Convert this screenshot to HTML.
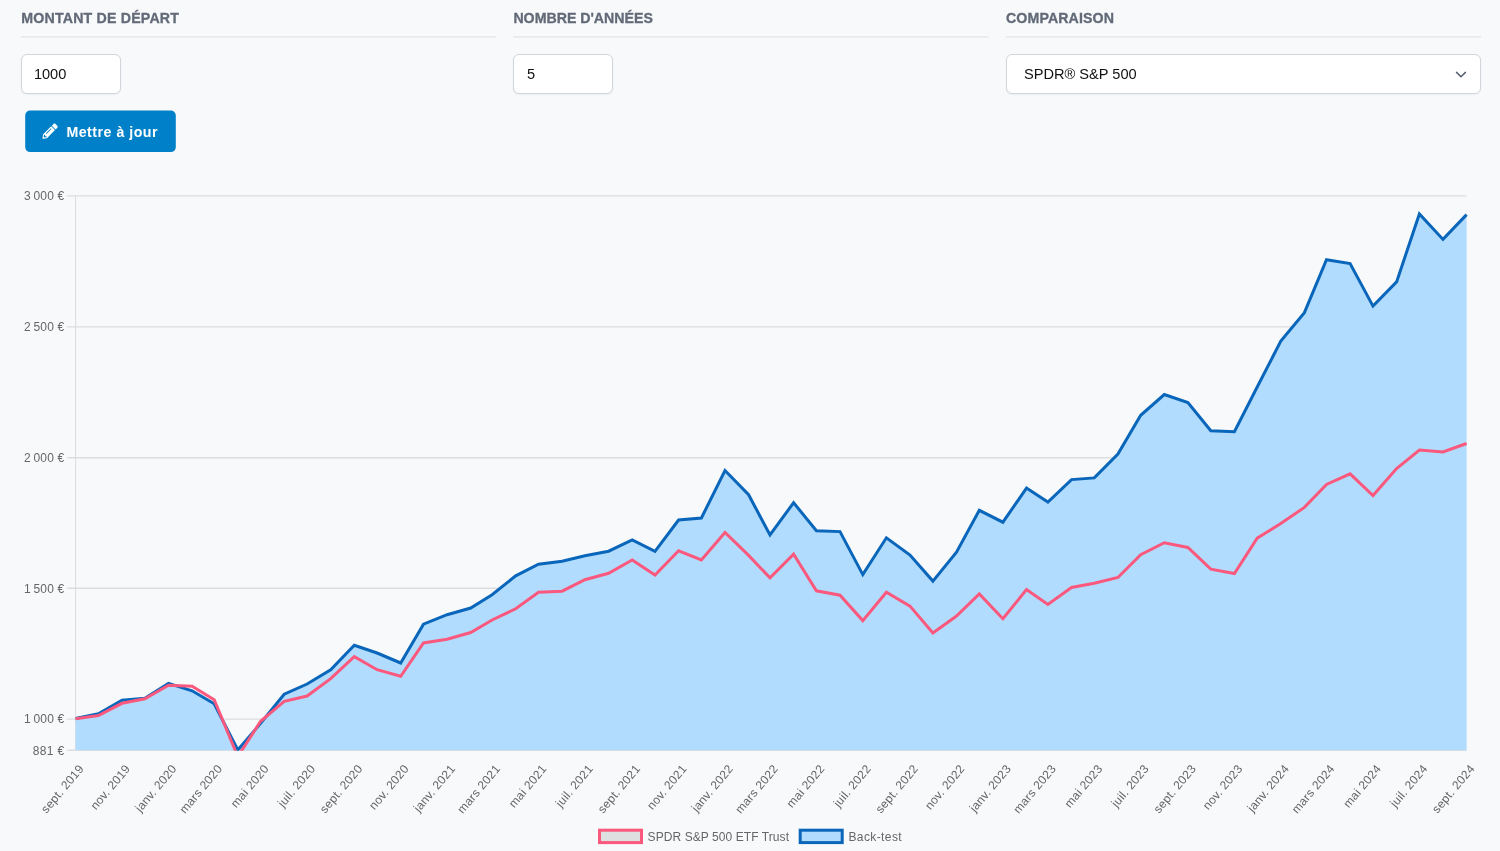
<!DOCTYPE html>
<html lang="fr">
<head>
<meta charset="utf-8">
<title>Back-test</title>
<style>
html,body{margin:0;padding:0}
body{width:1500px;height:851px;overflow:hidden;background:#f8f9fb;position:relative;font-family:"Liberation Sans",Arial,sans-serif;}
.lbl{position:absolute;top:8px;height:20px;line-height:20px;font-weight:700;font-size:14.2px;color:#626a78;-webkit-text-stroke:.3px #626a78;white-space:nowrap}
.hr{position:absolute;top:36px;height:1px;width:475px;background:#e7e9ec}
.inp{position:absolute;top:54px;height:39.5px;box-sizing:border-box;border:1px solid #d1d5dc;border-radius:6px;background:#fff;box-shadow:0 1px 2px rgba(0,0,0,.05);font-size:14.6px;line-height:39.5px;color:#111;white-space:nowrap}
.btn{position:absolute;left:25px;top:110.3px;width:151px;height:41.8px;border-radius:5px;background:#0080c8;color:#fff;font-weight:700;font-size:14.2px;letter-spacing:.5px;line-height:42.5px;white-space:nowrap}
.btn span{position:absolute;left:41.6px;top:0}
.btn svg{position:absolute;left:17.4px;top:13.2px}
.chart{position:absolute;left:0;top:0}
.tk{font-family:"Liberation Sans",Arial,sans-serif;font-size:12px;fill:#666}
</style>
</head>
<body>
<div class="lbl" style="left:21.3px;letter-spacing:.18px">MONTANT DE DÉPART</div>
<div class="lbl" style="left:513.4px;letter-spacing:-.02px">NOMBRE D'ANNÉES</div>
<div class="lbl" style="left:1006px;letter-spacing:.1px">COMPARAISON</div>
<div class="inp" style="left:21px;width:100px;padding-left:11.9px">1000</div>
<div class="inp" style="left:513px;width:100px;padding-left:12.9px">5</div>
<div class="inp" style="left:1006px;width:475px;padding-left:17px">SPDR® S&amp;P 500
<svg style="position:absolute;right:12.9px;top:15.7px" width="12" height="8" viewBox="0 0 12 8"><path d="M1.55 1.4 L6 5.7 L10.45 1.4" fill="none" stroke="#566070" stroke-width="1.5" stroke-linecap="round" stroke-linejoin="round"/></svg>
</div>
<svg class="chart" width="1500" height="851" viewBox="0 0 1500 851">
<defs><clipPath id="ca"><rect x="74.1" y="194.4" width="1394.0" height="556.4"/></clipPath></defs>
<rect x="25.2" y="110.5" width="150.6" height="41.6" rx="5" fill="#0080c8"/>
<g transform="translate(42.5,123.6) scale(0.02969)"><path fill="#fff" d="M497.9 142.1l-46.1 46.1c-4.7 4.7-12.3 4.7-17 0l-111-111c-4.700000-4.700000-4.700000-12.300000 0-17l46.100000-46.100000c18.700000-18.700000 49.100000-18.700000 67.900000 0l60.100000 60.100000c18.800000 18.700000 18.800000 49.100000 0 67.900000zM284.200000 99.800000L21.600000 362.400000.400000 483.900000c-2.900000 16.400000 11.400000 30.600000 27.800000 27.800000l121.500000-21.300000 262.600000-262.600000c4.700000-4.700000 4.700000-12.300000 0-17l-111-111c-4.800000-4.700000-12.400000-4.700000-17.100000 0zM124.100000 339.900000c-5.500000-5.500000-5.500000-14.300000 0-19.800000l154-154c5.500000-5.500000 14.300000-5.500000 19.800000 0s5.500000 14.300000 0 19.800000l-154 154c-5.500000 5.500000-14.300000 5.500000-19.800000 0zM88 424h48v36.300000l-64.500000 11.300000-31.100000-31.100000L51.700000 376H88v48z"/></g>
<text x="66.4" y="137.0" fill="#fff" font-family="Liberation Sans, Arial, sans-serif" font-weight="700" font-size="14.2" letter-spacing=".5">Mettre à jour</text>
<rect x="21.2" y="36.3" width="475.2" height="1.2" fill="#e1e4e8"/>
<rect x="513.4" y="36.3" width="475.2" height="1.2" fill="#e1e4e8"/>
<rect x="1005.9" y="36.3" width="475.2" height="1.2" fill="#e1e4e8"/>
<g stroke="#dcdde0" stroke-width="1.4">
<line x1="67.2" x2="1466.6" y1="195.9" y2="195.9"/>
<line x1="67.2" x2="1466.6" y1="326.9" y2="326.9"/>
<line x1="67.2" x2="1466.6" y1="457.7" y2="457.7"/>
<line x1="67.2" x2="1466.6" y1="588.2" y2="588.2"/>
<line x1="67.2" x2="1466.6" y1="719.1" y2="719.1"/>
<line x1="67.2" x2="1466.6" y1="750.3" y2="750.3"/>
<line x1="75.6" x2="75.6" y1="195.9" y2="750.3" stroke-width="1.1"/>
</g>
<g clip-path="url(#ca)">
<polygon fill="#b1dcfd" points="75.6,718.5 98.4,713.8 122.0,700.3 144.9,698.3 168.5,683.3 192.1,690.8 214.2,703.8 237.8,750.0 260.6,723.3 284.2,694.2 307.1,684.0 330.7,669.7 354.3,645.3 377.1,653.0 400.7,663.0 423.5,624.2 447.1,614.7 470.7,608.0 492.1,594.7 515.7,575.8 538.5,564.2 562.1,561.3 584.9,555.8 608.6,551.2 632.2,540.0 655.0,551.3 678.6,520.0 701.4,518.0 725.0,470.5 748.6,494.7 770.0,535.0 793.6,502.7 816.4,530.8 840.0,531.6 862.8,574.6 886.4,537.8 910.0,555.0 932.9,581.1 956.5,552.1 979.3,510.3 1002.9,522.2 1026.5,488.1 1047.9,502.1 1071.5,479.6 1094.3,477.9 1117.9,454.0 1140.7,415.3 1164.3,394.5 1187.9,402.6 1210.8,430.7 1234.4,431.8 1257.2,387.0 1280.8,341.1 1304.4,312.7 1326.5,259.7 1350.1,263.5 1373.0,306.1 1396.6,281.9 1419.4,213.9 1443.0,239.4 1466.6,214.6 1466.6,750.3 75.6,750.3"/>
<polyline fill="none" stroke="#0a66ba" stroke-width="3" stroke-linejoin="miter" points="75.6,718.5 98.4,713.8 122.0,700.3 144.9,698.3 168.5,683.3 192.1,690.8 214.2,703.8 237.8,750.0 260.6,723.3 284.2,694.2 307.1,684.0 330.7,669.7 354.3,645.3 377.1,653.0 400.7,663.0 423.5,624.2 447.1,614.7 470.7,608.0 492.1,594.7 515.7,575.8 538.5,564.2 562.1,561.3 584.9,555.8 608.6,551.2 632.2,540.0 655.0,551.3 678.6,520.0 701.4,518.0 725.0,470.5 748.6,494.7 770.0,535.0 793.6,502.7 816.4,530.8 840.0,531.6 862.8,574.6 886.4,537.8 910.0,555.0 932.9,581.1 956.5,552.1 979.3,510.3 1002.9,522.2 1026.5,488.1 1047.9,502.1 1071.5,479.6 1094.3,477.9 1117.9,454.0 1140.7,415.3 1164.3,394.5 1187.9,402.6 1210.8,430.7 1234.4,431.8 1257.2,387.0 1280.8,341.1 1304.4,312.7 1326.5,259.7 1350.1,263.5 1373.0,306.1 1396.6,281.9 1419.4,213.9 1443.0,239.4 1466.6,214.6"/>
<polyline fill="none" stroke="#fb587e" stroke-width="3" stroke-linejoin="miter" points="75.6,718.8 98.4,715.5 122.0,703.3 144.9,698.8 168.5,685.3 192.1,686.3 214.2,699.7 237.8,756.6 260.6,721.3 284.2,701.3 307.1,696.0 330.7,678.7 354.3,656.7 377.1,669.7 400.7,676.3 423.5,643.0 447.1,639.2 470.7,632.5 492.1,620.0 515.7,608.8 538.5,592.3 562.1,591.2 584.9,579.7 608.6,573.3 632.2,560.0 655.0,575.0 678.6,550.8 701.4,560.0 725.0,532.5 748.6,555.4 770.0,577.9 793.6,554.2 816.4,590.8 840.0,595.2 862.8,620.6 886.4,592.3 910.0,606.1 932.9,632.9 956.5,616.0 979.3,594.0 1002.9,618.8 1026.5,589.5 1047.9,604.5 1071.5,587.5 1094.3,583.3 1117.9,577.5 1140.7,554.7 1164.3,542.7 1187.9,547.5 1210.8,569.2 1234.4,573.5 1257.2,538.1 1280.8,523.5 1304.4,507.4 1326.5,484.4 1350.1,473.9 1373.0,495.5 1396.6,468.6 1419.4,450.0 1443.0,452.0 1466.6,443.5"/>
</g>
<g class="tk" text-anchor="end">
<text x="64.3" y="200.2" textLength="40.3" lengthAdjust="spacing">3 000 €</text>
<text x="64.3" y="331.2" textLength="40.3" lengthAdjust="spacing">2 500 €</text>
<text x="64.3" y="462.0" textLength="40.3" lengthAdjust="spacing">2 000 €</text>
<text x="64.3" y="592.5" textLength="40.3" lengthAdjust="spacing">1 500 €</text>
<text x="64.3" y="723.4" textLength="40.3" lengthAdjust="spacing">1 000 €</text>
<text x="64.3" y="754.6" textLength="31.6" lengthAdjust="spacing">881 €</text>
</g>
<g class="tk" text-anchor="end" letter-spacing=".28">
<text transform="translate(76.0,761.9) rotate(-50)" x="0" y="11">sept. 2019</text>
<text transform="translate(122.4,761.9) rotate(-50)" x="0" y="11">nov. 2019</text>
<text transform="translate(168.9,761.9) rotate(-50)" x="0" y="11">janv. 2020</text>
<text transform="translate(214.6,761.9) rotate(-50)" x="0" y="11">mars 2020</text>
<text transform="translate(261.0,761.9) rotate(-50)" x="0" y="11">mai 2020</text>
<text transform="translate(307.5,761.9) rotate(-50)" x="0" y="11">juil. 2020</text>
<text transform="translate(354.7,761.9) rotate(-50)" x="0" y="11">sept. 2020</text>
<text transform="translate(401.1,761.9) rotate(-50)" x="0" y="11">nov. 2020</text>
<text transform="translate(447.5,761.9) rotate(-50)" x="0" y="11">janv. 2021</text>
<text transform="translate(492.5,761.9) rotate(-50)" x="0" y="11">mars 2021</text>
<text transform="translate(538.9,761.9) rotate(-50)" x="0" y="11">mai 2021</text>
<text transform="translate(585.3,761.9) rotate(-50)" x="0" y="11">juil. 2021</text>
<text transform="translate(632.6,761.9) rotate(-50)" x="0" y="11">sept. 2021</text>
<text transform="translate(679.0,761.9) rotate(-50)" x="0" y="11">nov. 2021</text>
<text transform="translate(725.4,761.9) rotate(-50)" x="0" y="11">janv. 2022</text>
<text transform="translate(770.4,761.9) rotate(-50)" x="0" y="11">mars 2022</text>
<text transform="translate(816.8,761.9) rotate(-50)" x="0" y="11">mai 2022</text>
<text transform="translate(863.2,761.9) rotate(-50)" x="0" y="11">juil. 2022</text>
<text transform="translate(910.4,761.9) rotate(-50)" x="0" y="11">sept. 2022</text>
<text transform="translate(956.9,761.9) rotate(-50)" x="0" y="11">nov. 2022</text>
<text transform="translate(1003.3,761.9) rotate(-50)" x="0" y="11">janv. 2023</text>
<text transform="translate(1048.3,761.9) rotate(-50)" x="0" y="11">mars 2023</text>
<text transform="translate(1094.7,761.9) rotate(-50)" x="0" y="11">mai 2023</text>
<text transform="translate(1141.1,761.9) rotate(-50)" x="0" y="11">juil. 2023</text>
<text transform="translate(1188.3,761.9) rotate(-50)" x="0" y="11">sept. 2023</text>
<text transform="translate(1234.8,761.9) rotate(-50)" x="0" y="11">nov. 2023</text>
<text transform="translate(1281.2,761.9) rotate(-50)" x="0" y="11">janv. 2024</text>
<text transform="translate(1326.9,761.9) rotate(-50)" x="0" y="11">mars 2024</text>
<text transform="translate(1373.4,761.9) rotate(-50)" x="0" y="11">mai 2024</text>
<text transform="translate(1419.8,761.9) rotate(-50)" x="0" y="11">juil. 2024</text>
<text transform="translate(1467.0,761.9) rotate(-50)" x="0" y="11">sept. 2024</text>
</g>
<rect x="599.5" y="830.2" width="42" height="12.4" fill="#dedfe1" stroke="#fb587e" stroke-width="3"/>
<text class="tk" x="647.6" y="840.6" textLength="141.4" lengthAdjust="spacing">SPDR S&amp;P 500 ETF Trust</text>
<rect x="800.2" y="830.2" width="42" height="12.4" fill="#b1dcfd" stroke="#0a66ba" stroke-width="3"/>
<text class="tk" x="848.4" y="840.6" textLength="53.3" lengthAdjust="spacing">Back-test</text>
</svg>
</body>
</html>
